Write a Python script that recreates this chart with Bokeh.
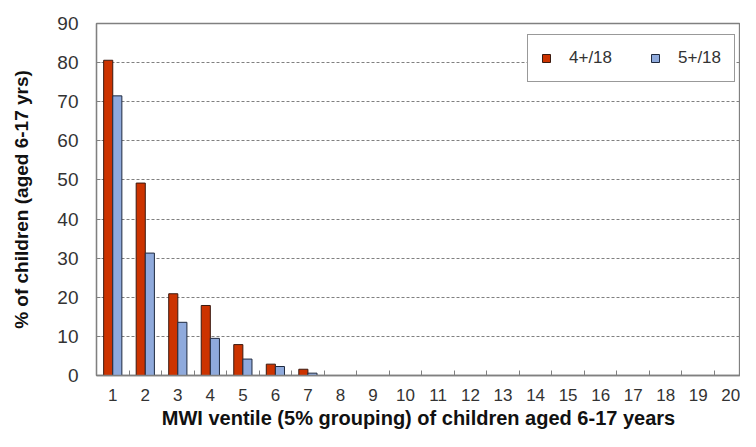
from bokeh.plotting import figure
from bokeh.models import ColumnDataSource, FixedTicker, Legend, LegendItem
from bokeh.embed import file_html
from bokeh.resources import INLINE

ventiles = list(range(1, 21))
series_4plus = [80.6, 49.2, 20.9, 17.9, 7.9, 2.9, 1.6, 0, 0, 0, 0, 0, 0, 0, 0, 0, 0, 0, 0, 0]
series_5plus = [71.5, 31.3, 13.6, 9.5, 4.2, 2.3, 0.6, 0, 0, 0, 0, 0, 0, 0, 0, 0, 0, 0, 0, 0]
y_ticks = [0, 10, 20, 30, 40, 50, 60, 70, 80, 90]
label_4 = "4+/18"
label_5 = "5+/18"
x_title = "MWI ventile (5% grouping) of children aged 6-17 years"
y_title = "% of children (aged 6-17 yrs)"

FONT = "Liberation Sans"
RED = "#CC3300"
BLUE = "#8FAADC"

bw = 0.28
src = ColumnDataSource(data=dict(
    x4=[v - bw / 2 for v in ventiles],
    x5=[v + bw / 2 for v in ventiles],
    a=series_4plus,
    b=series_5plus,
))

p = figure(width=740, height=431, x_range=(0.5, 20.3), y_range=(0, 90),
           output_backend="svg", toolbar_location=None,
           min_border_left=96, min_border_right=0, min_border_top=23, min_border_bottom=10)
p.background_fill_color = "white"
p.border_fill_color = "white"
p.outline_line_color = "#808080"
p.outline_line_width = 1.3

r4 = p.vbar(x="x4", top="a", width=bw, source=src, fill_color=RED,
            line_color="#3a1a10", line_width=1)
r5 = p.vbar(x="x5", top="b", width=bw, source=src, fill_color=BLUE,
            line_color="#1f2a3f", line_width=1)

# axes
p.xgrid.grid_line_color = None
p.ygrid.grid_line_color = "#808080"
p.ygrid.grid_line_dash = "3 2"
p.ygrid.grid_line_width = 1
p.yaxis.ticker = FixedTicker(ticks=y_ticks)
p.xaxis.ticker = FixedTicker(ticks=ventiles, minor_ticks=[v + 0.5 for v in ventiles])

for ax in (p.xaxis[0], p.yaxis[0]):
    ax.axis_line_color = "#808080"
    ax.axis_line_width = 1.3
    ax.major_label_text_font = FONT
    ax.major_label_text_color = "#333333"

p.xaxis.major_tick_line_color = None
p.xaxis.minor_tick_line_color = "#808080"
p.xaxis.minor_tick_in = 5
p.xaxis.minor_tick_out = 0
p.xaxis.major_label_text_font_size = "17px"
p.xaxis.major_label_standoff = 7
p.xaxis.axis_label = x_title
p.xaxis.axis_label_text_font = FONT
p.xaxis.axis_label_text_font_style = "bold"
p.xaxis.axis_label_text_font_size = "20px"
p.xaxis.axis_label_text_color = "#111111"
p.xaxis.axis_label_standoff = 3

p.yaxis.major_tick_line_color = "#808080"
p.yaxis.major_tick_in = 4
p.yaxis.major_tick_out = 0
p.yaxis.minor_tick_line_color = None
p.yaxis.major_label_text_font_size = "19px"
p.yaxis.major_label_standoff = 18
p.yaxis.axis_label = y_title
p.yaxis.axis_label_text_font = FONT
p.yaxis.axis_label_text_font_style = "bold"
p.yaxis.axis_label_text_font_size = "19px"
p.yaxis.axis_label_text_color = "#111111"
p.yaxis.axis_label_standoff = 22

legend = Legend(items=[LegendItem(label=label_4, renderers=[r4]),
                       LegendItem(label=label_5, renderers=[r5])],
                orientation="horizontal", location=(431, 293))
legend.label_text_font = FONT
legend.label_text_font_size = "17px"
legend.label_text_color = "#333333"
legend.glyph_width = 10
legend.glyph_height = 10
legend.label_standoff = 18
legend.spacing = 38
legend.padding = 13
legend.label_height = 17
legend.border_line_color = "#333333"
legend.border_line_width = 1.3
legend.background_fill_alpha = 1
p.add_layout(legend, "center")

open("out.html", "w").write(file_html(p, INLINE))
